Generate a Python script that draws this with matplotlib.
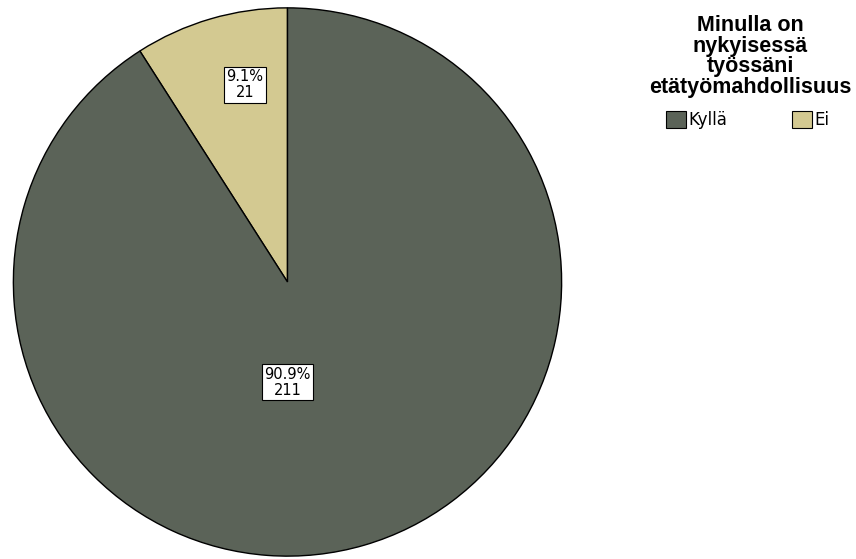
import matplotlib.pyplot as plt
from matplotlib.patches import Patch

# answer counts
categories = ['Kyllä', 'Ei']
counts = [211, 21]
colors = ['#5b6358', '#d3c991']
legend_title = 'Minulla on\nnykyisessä\ntyössäni\netätyömahdollisuus'

fig = plt.figure(figsize=(8.56, 5.59), dpi=100)
ax = fig.add_axes([12 / 856, 1.5 / 559, 551 / 856, 551 / 559])

# draw "Ei" first so it sits just left of 12 o'clock, "Kyllä" takes the rest
order = [1, 0]
wedges, _ = ax.pie([counts[i] for i in order], colors=[colors[i] for i in order],
                   startangle=90, counterclock=True, radius=1,
                   wedgeprops=dict(edgecolor='black', linewidth=1.0))
ax.set_xlim(-1.005, 1.005)
ax.set_ylim(-1.005, 1.005)
ax.set_aspect('equal')
ax.axis('off')

total = sum(counts)
label_pos = {'Kyllä': (0.0, -0.366), 'Ei': (-0.155, 0.72)}
for name, n in zip(categories, counts):
    x, y = label_pos[name]
    ax.text(x, y, f'{n / total * 100:.1f}%\n{n}', ha='center', va='center',
            fontsize=10.5, linespacing=1.05, family='DejaVu Sans',
            bbox=dict(boxstyle='square,pad=0.18', fc='white', ec='black', lw=0.8))

fig.text(750 / 856, 1 - 15 / 559, legend_title, ha='center', va='top',
         fontsize=15.5, fontweight='bold', family='Liberation Sans', linespacing=0.98)

handles = [Patch(facecolor=c, edgecolor='black', linewidth=0.8) for c in colors]
fig.legend(handles, categories, loc='center left', bbox_to_anchor=(666 / 856, 1 - 120 / 559),
           ncol=2, frameon=False, fontsize=12, handlelength=1.2, handleheight=1.2,
           handletextpad=0.15, columnspacing=3.9, borderpad=0, borderaxespad=0)

fig.savefig('out.png', dpi=100)
